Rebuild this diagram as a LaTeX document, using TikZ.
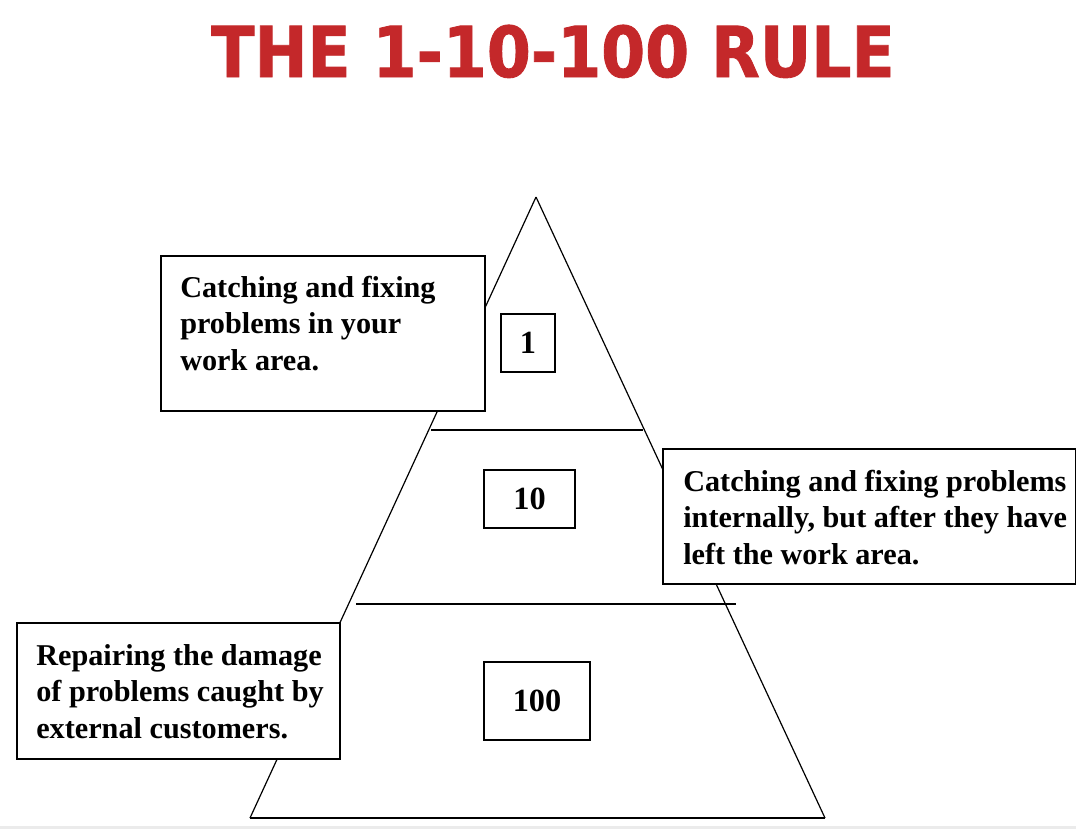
\documentclass[tikz,border=0pt]{standalone}
\usepackage{fontspec}
\setmainfont{Liberation Serif}
\newfontfamily\titlefont[BoldFeatures={FakeBold=1.2}]{DejaVu Sans Condensed}
\usetikzlibrary{calc,fit}
\definecolor{rulered}{RGB}{196,40,42}
\tikzset{
    rule diagram/.style = {x=0.25mm, y=-0.25mm},
    side/.style         = {line width=0.3mm},
    divider/.style      = {line width=0.5mm},
    callout/.style      = {draw, line width=0.5mm, fill=white, inner sep=0pt},
    note/.style         = {font=\bfseries\fontsize{21.5}{25.9}\selectfont,
                           align=left, inner sep=0pt, anchor=base west},
    costbox/.style      = {callout, font=\bfseries\fontsize{23}{26}\selectfont},
    heading/.style      = {font=\titlefont\bfseries\fontsize{50}{60}\selectfont,
                           text=rulered, inner sep=0pt, anchor=base}
}

\begin{document}
\begin{tikzpicture}[rule diagram]
\useasboundingbox (0,0) rectangle (1076,829);
\fill[black!8] (0,826) rectangle (1076,829);

% Title.
\node[heading] (title) at (553,77) {THE 1-10-100 RULE};

% Pyramid outline and the two level dividers.
\coordinate (apex) at (536,197);
\coordinate (baseL) at (250,818);
\coordinate (baseR) at (825,818);
\draw[side] (apex) -- (baseL);
\draw[side] (apex) -- (baseR);
\draw[divider] (baseL) -- (baseR);
\coordinate (upperL) at (431,430);
\coordinate (upperR) at (643,430);
\coordinate (lowerL) at (356,604);
\coordinate (lowerR) at (736,604);
\draw[divider] (upperL) -- (upperR);
\draw[divider] (lowerL) -- (lowerR);

% Cost factor of each level.
\node[costbox, minimum width=13.5mm, minimum height=14.5mm]
    (one) at (528,343) {1};
\node[costbox, minimum width=22.75mm, minimum height=14.5mm]
    (ten) at (529.5,499) {10};
\node[costbox, minimum width=26.5mm, minimum height=19.5mm]
    (hundred) at (537,701) {100};

% Callouts laid over the pyramid sides; the note sits on its last baseline.
\node[callout, fit={(161,256) (485,411)}] (workarea) {};
\node[note] (workareatext) at ($(workarea.north west)+(20,115)$)
    {Catching and fixing\\problems in your\\work area.};

\node[callout, fit={(663,449) (1076,584)}] (internal) {};
\node[note] (internaltext) at ($(internal.north west)+(21,116)$)
    {Catching and fixing problems\\internally, but after they have\\left the work area.};

\node[callout, fit={(17,623) (340,759)}] (external) {};
\node[note] (externaltext) at ($(external.north west)+(20,116)$)
    {Repairing the damage\\of problems caught by\\external customers.};

\end{tikzpicture}
\end{document}
